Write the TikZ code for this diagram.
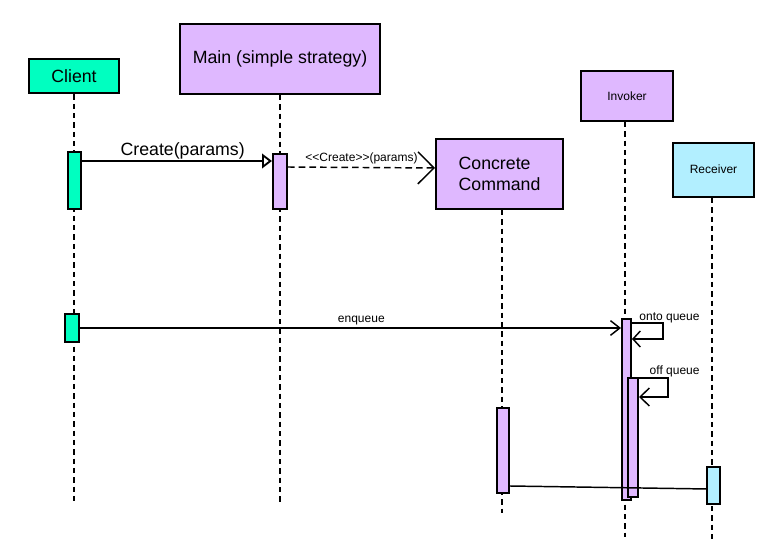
\documentclass[tikz,border=0pt]{standalone}
\usepackage{fontspec}
\setmainfont{Liberation Sans}
\usetikzlibrary{arrows.meta}

\definecolor{clientgreen}{RGB}{0,255,192}
\definecolor{lilac}{RGB}{223,184,255}
\definecolor{paleblue}{RGB}{178,239,255}
\newcommand{\namesize}{\fontsize{13.3}{15.75}\selectfont}
\newcommand{\msgsize}{\fontsize{9}{11}\selectfont}

\begin{document}
\begin{tikzpicture}[x=0.75pt, y=-0.75pt,
    obj/.style={draw, line width=1.5pt, fill=#1, inner sep=0pt},
    bar/.style={draw, line width=1.5pt, fill=#1, inner sep=0pt},
    lifeline/.style={line width=1.5pt, dash pattern=on 4pt off 3pt},
    msg/.style={line width=1.1pt}]
  \fill[white] (0,0) rectangle (760,552);
  \useasboundingbox (0,0) rectangle (760,552);

  \node[obj=clientgreen, minimum width=67.5pt, minimum height=25.5pt, font=\namesize] (client) at (74,76.5) {Client};
  \node[obj=lilac, minimum width=150pt, minimum height=52.5pt, font=\namesize] (main) at (280,59) {Main (simple strategy)};
  \node[obj=lilac, minimum width=95.25pt, minimum height=52.5pt, font=\namesize, align=left] (command) at (499.5,174) {Concrete\\Command};
  \node[obj=lilac, minimum width=69pt, minimum height=37.5pt, font=\msgsize] (invoker) at (627,96) {Invoker};
  \node[obj=paleblue, minimum width=60.75pt, minimum height=40.5pt, font=\msgsize] (receiver) at (713.5,170) {\raisebox{2pt}{Receiver}};

  \foreach \n/\x/\y in {client/74/503, main/280/503, command/502/513, invoker/625/537, receiver/712/542} {
      \coordinate (\n-end) at (\x,\y);
      \draw[lifeline] (\n-end |- \n.south) -- (\n-end);
    }

  \node[bar=clientgreen, minimum width=9.75pt, minimum height=42.75pt] (client-a) at (74.5,180.5) {};
  \node[bar=clientgreen, minimum width=10.5pt, minimum height=21pt] (client-b) at (72,328) {};
  \node[bar=lilac, minimum width=10.5pt, minimum height=41.25pt] (main-a) at (280,181.5) {};
  \node[bar=lilac, minimum width=9pt, minimum height=63.75pt] (command-a) at (503,450.5) {};
  \node[bar=lilac, minimum width=6.75pt, minimum height=135.75pt] (invoker-a) at (626.5,409.5) {};
  \node[bar=lilac, minimum width=7.5pt, minimum height=89.25pt] (invoker-b) at (633,437.5) {};
  \node[bar=paleblue, minimum width=9.75pt, minimum height=27.75pt] (receiver-a) at (713.5,485.5) {};

  \draw[msg, -{Triangle[open, length=7.5pt, width=11pt, line width=1.4pt]}] ([yshift=-7.5pt]client-a.north east)
    -- node[above, inner sep=1pt, pos=0.53, font=\namesize] {Create(params)} ([yshift=-6pt]main-a.north west);
  \draw[msg, dash pattern=on 5pt off 3pt, -{Straight Barb[length=12pt, width=24pt]}] ([yshift=-10.5pt]main-a.north east)
    -- node[above, inner sep=2pt, font=\msgsize] {<\kern0pt<Create>\kern0pt>(params)} ([yshift=4.5pt]command.west);
  \draw[msg, -{Straight Barb[length=7pt, width=11pt]}] (client-b.east)
    -- node[above, inner sep=2pt, pos=0.52, font=\msgsize] {enqueue} ([yshift=-7.5pt]invoker-a.north west);
  \draw[msg, -{Straight Barb[length=5.5pt, width=12pt]}] ([yshift=-3.75pt]invoker-a.north east)
    -- node[pos=0, anchor=base west, inner sep=0pt, xshift=5pt, yshift=1.8pt, font=\msgsize] {onto queue} ++(31,0)
    |- ([yshift=-15.75pt]invoker-a.north east);
  \draw[msg, -{Straight Barb[length=7pt, width=13.5pt]}] ([yshift=-0.75pt]invoker-b.north east)
    -- node[pos=0, anchor=base west, inner sep=0pt, xshift=7.5pt, yshift=3pt, font=\msgsize] {off queue} ++(29,0)
    |- ([yshift=-15pt]invoker-b.north east);
  \draw[msg] ([yshift=-59.25pt]command-a.north east) -- ([yshift=-2.6pt]receiver-a.west);
\end{tikzpicture}
\end{document}
